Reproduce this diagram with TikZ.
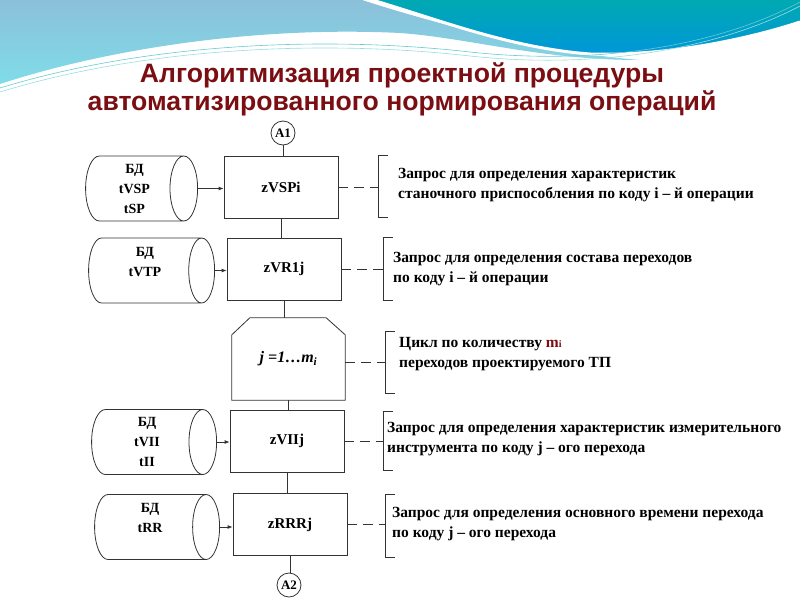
\documentclass[tikz,border=0pt]{standalone}
\usepackage{fontspec}
\setmainfont{Liberation Serif}
\newfontfamily\titlefont{Liberation Sans}
\usetikzlibrary{arrows.meta,positioning,shapes.geometric}
\definecolor{TitleRed}{HTML}{7A0E12}
\definecolor{WaveLight}{HTML}{8CC0DA}
\definecolor{WaveCyan}{HTML}{7FDCE8}
\definecolor{WaveTeal}{HTML}{00A9B2}
\definecolor{WaveBlue}{HTML}{0096DA}
\definecolor{InkGray}{HTML}{333333}

\begin{document}
\begin{tikzpicture}[
  x=1pt, y=-1pt,
  ink/.style={draw=InkGray,line width=0.8pt},
  proc/.style={ink,minimum width=114pt,minimum height=62pt,inner sep=0pt,font=\bfseries\fontsize{15}{15}\selectfont},
  db/.style={ink,cylinder,shape aspect=0.56,minimum width=65pt,inner sep=0pt,align=center,anchor=east,font=\bfseries\fontsize{14}{20}\selectfont},
  conn/.style={ink,circle,inner sep=0pt,minimum size=24pt,font=\bfseries\fontsize{13}{13}\selectfont},
  bracket/.style={inner sep=0pt,minimum width=0pt},
  note/.style={anchor=west,align=left,inner sep=0pt,font=\bfseries\fontsize{15.5}{20}\selectfont},
  dashlink/.style={ink,dash pattern=on 10pt off 6pt},
  feed/.style={ink,-{Latex[length=5pt,width=4pt]}}
]
  \useasboundingbox (0,0) rectangle (800,600);

  % waves at the top
  \shade[top color=WaveLight,bottom color=WaveCyan]
    (0,0) -- (362,0) .. controls (430,22) and (540,52) .. (640,60)
    .. controls (540,60) and (470,38) .. (400,33)
    .. controls (260,26) and (110,48) .. (0,84) -- cycle;
  \shade[top color=WaveTeal,bottom color=WaveBlue]
    (372,0) -- (800,0) -- (800,22) .. controls (730,45) and (650,56) .. (590,54)
    .. controls (510,48) and (440,20) .. (372,0) -- cycle;
  \draw[white,line width=3pt]
    (800,22) .. controls (730,45) and (650,56) .. (590,54)
    .. controls (510,48) and (440,20) .. (372,0);
  \draw[WaveTeal!60,line width=0.6pt]
    (0,88) .. controls (150,42) and (330,36) .. (470,52) .. controls (600,66) and (720,45) .. (800,2);
  \draw[WaveTeal!40,line width=0.6pt]
    (0,92) .. controls (150,46) and (330,40) .. (470,56) .. controls (600,70) and (720,48) .. (800,6);

  % title
  \node[font=\titlefont\bfseries\fontsize{26.6}{28}\selectfont,text=TitleRed,align=center] (title) at (402,89)
    {Алгоритмизация проектной процедуры\\автоматизированного нормирования операций};

  % main column
  \node[conn] (a1) at (283,133) {A1};
  \node[proc] (zvsp) at (281,187.5) {zVSPi};
  \node[proc] (zvr) at (284,269) {zVR1j};
  \node[minimum width=113pt,minimum height=82pt,inner sep=0pt,font=\bfseries\itshape\fontsize{16}{16}\selectfont] (loop) at (288.5,359)
    {j =1\ldots m\textsubscript{i}};
  \draw[ink] ([yshift=-17pt]loop.north west) -- ([xshift=18pt]loop.north west)
    -- ([xshift=-19pt]loop.north east) -- ([yshift=-17pt]loop.north east)
    -- (loop.south east) -- (loop.south west) -- cycle;
  \node[proc] (zvii) at (287,441) {zVIIj};
  \node[proc] (zrrr) at (290,524.5) {zRRRj};
  \node[conn] (a2) at (289,585) {A2};

  \draw[ink] (a1) -- (a1 |- zvsp.north);
  \draw[ink] (zvsp.south) -- (zvsp.south |- zvr.north);
  \draw[ink] (zvr.south) -- (zvr.south |- loop.north);
  \draw[ink] (loop.south) -- (loop.south |- zvii.north);
  \draw[ink] (zvii.south) -- (zvii.south |- zrrr.north);
  \draw[ink] (zrrr.south) -- (zrrr.south |- a2.north);

  % databases
  \node[db,minimum height=112pt] (db1) at (198,188.5) {БД\\tVSP\\tSP};
  \node[db,minimum height=126pt] (db2) at (215,270.5) {БД\\tVTP\\[-3pt]};
  \node[db,minimum height=125pt] (db4) at (217,442) {БД\\tVII\\tII};
  \node[db,minimum height=125pt] (db5) at (220,527) {БД\\tRR\\[-1pt]};

  \draw[feed] (db1.east) -- (db1.east -| zvsp.west);
  \draw[feed] (db2.east) -- (db2.east -| zvr.west);
  \draw[feed] (db4.east) -- (db4.east -| zvii.west);
  \draw[feed] (db5.east) -- (db5.east -| zrrr.west);

  % brackets with comments
  \node[bracket,minimum height=61pt] (br1) at (378,186.5) {};
  \node[bracket,minimum height=62pt] (br2) at (383,269) {};
  \node[bracket,minimum height=61pt] (br3) at (385,362.5) {};
  \node[bracket,minimum height=58pt] (br4) at (383,441) {};
  \node[bracket,minimum height=62pt] (br5) at (385,526) {};
  \foreach \b in {br1,br2,br3,br4,br5}
    \draw[ink] ([xshift=10pt]\b.north) -- (\b.north) -- (\b.south) -- ([xshift=10pt]\b.south);

  \draw[dashlink] (zvsp.east) -- (zvsp.east -| br1.west);
  \draw[dashlink] (zvr.east) -- (zvr.east -| br2.west);
  \draw[dashlink] ([yshift=-3pt]loop.east) -- ([yshift=-3pt]loop.east -| br3.west);
  \draw[dashlink] (zvii.east) -- (zvii.east -| br4.west);
  \draw[dashlink] (zrrr.east) -- (zrrr.east -| br5.west);

  \node[note] (n1) at (398,185.5) {Запрос для определения характеристик\\станочного приспособления по коду i – й операции};
  \node[note] (n2) at (393,269.5) {Запрос для определения состава переходов\\по коду i – й операции};
  \node[note] (n3) at (399,354) {Цикл по количеству {\color{TitleRed}m{\fontsize{10}{10}\selectfont i}}\\переходов проектируемого ТП};
  \node[note] (n4) at (387,439.5) {Запрос для определения характеристик измерительного\\инструмента по коду j – ого перехода};
  \node[note] (n5) at (392,524) {Запрос для определения основного времени перехода\\по коду j – ого перехода};
\end{tikzpicture}
\end{document}
